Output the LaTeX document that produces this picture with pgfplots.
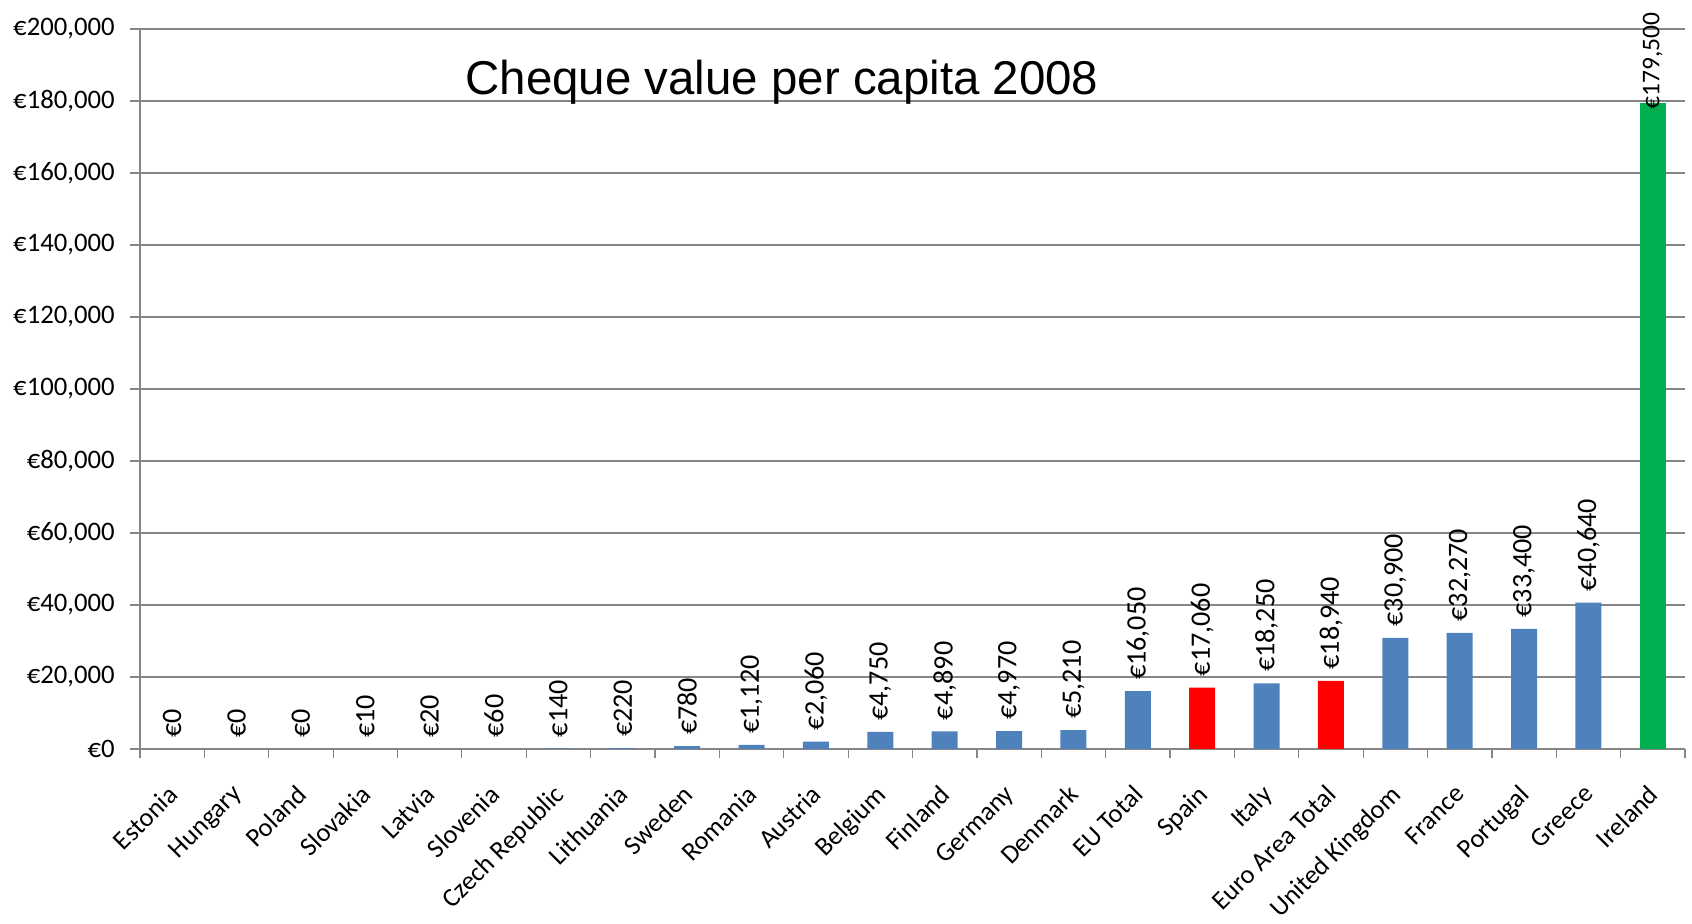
\documentclass[border=0pt]{standalone}
\usepackage{fontspec}
\setmainfont{Carlito}
\newfontfamily\titlefont{Liberation Sans}
\usepackage{pgfplots}
\pgfplotsset{compat=1.18}
\definecolor{barblue}{HTML}{4F81BD}
\definecolor{barred}{HTML}{FF0000}
\definecolor{bargreen}{HTML}{00B050}
\definecolor{gridgray}{HTML}{868686}
\begin{document}
\begin{tikzpicture}
\useasboundingbox (0,0) rectangle (338.4mm,184.8mm);
\begin{axis}[
  at={(28mm,35mm)}, anchor=south west,
  scale only axis, width=309mm, height=144mm,
  clip=false,
  xmin=-0.5, xmax=23.5, ymin=0, ymax=200000,
  axis x line*=bottom, axis y line*=left,
  axis line style={-, draw=gridgray, line width=0.7pt},
  ymajorgrids, grid style={draw=gridgray, line width=0.7pt},
  ytick={0,20000,...,200000},
  scaled y ticks=false,
  yticklabel={€\pgfmathprintnumber[fixed,precision=0,1000 sep={,},assume math mode=true]{\tick}},
  yticklabel style={font=\fontsize{15.2}{18}\selectfont, inner sep=0pt, xshift=-3mm, anchor=east},
  xtick={0,1,...,23},
  xticklabels={Estonia,Hungary,Poland,Slovakia,Latvia,Slovenia,Czech Republic,Lithuania,Sweden,Romania,Austria,Belgium,Finland,Germany,Denmark,EU Total,Spain,Italy,Euro Area Total,United Kingdom,France,Portugal,Greece,Ireland},
  xticklabel style={font=\fontsize{15}{18}\selectfont, inner sep=0pt, yshift=-4.8mm, xshift=-1.2mm, rotate=45, anchor=north east},
  minor xtick={-0.5,0.5,...,23.5},
  tick align=outside,
  major tick length=2mm, minor tick length=1.8mm,
  tick style={draw=gridgray, line width=0.7pt},
  major x tick style={draw=none},
  minor x tick style={draw=gridgray, line width=0.7pt},
  ybar, bar width=5.2mm,
  nodes near coords={€\pgfmathprintnumber[fixed,precision=0,1000 sep={,},assume math mode=true]{\pgfplotspointmeta}},
  nodes near coords style={font=\fontsize{16}{19}\selectfont, text=black, rotate=90, anchor=west, inner xsep=2.2mm, inner ysep=0pt},
]
\addplot[fill=barblue, draw=none, bar shift=0pt] coordinates {
  (0,0) (1,0) (2,0) (3,10) (4,20) (5,60) (6,140) (7,220) (8,780) (9,1120)
  (10,2060) (11,4750) (12,4890) (13,4970) (14,5210) (15,16050)
  (17,18250) (19,30900) (20,32270) (21,33400) (22,40640)
};
\addplot[fill=barred, draw=none, bar shift=0pt] coordinates {
  (16,17060) (18,18940)
};
\addplot[fill=bargreen, draw=none, bar shift=0pt, nodes near coords style={font=\fontsize{14.5}{17}\selectfont, inner xsep=0pt, xshift=-1.4mm}] coordinates {
  (23,179500)
};
\node[font=\titlefont\fontsize{27}{32}\selectfont, anchor=base, inner sep=0pt] at (rel axis cs:0.4155,0.9097) {Cheque value per capita 2008};
\end{axis}
\end{tikzpicture}
\end{document}
